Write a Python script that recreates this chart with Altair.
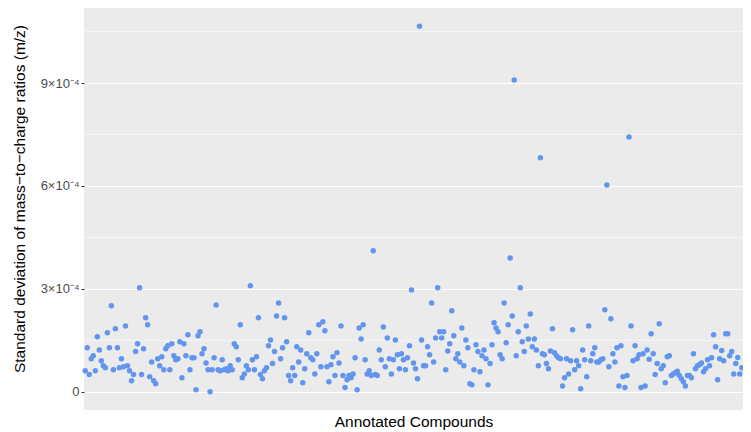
import altair as alt
import pandas as pd

# Standard deviation of m/z for each annotated compound, in units of 1e-4
sd_e4 = [
    0.61, 1.28, 0.50, 0.96, 1.05, 0.61, 1.60, 1.22, 0.90, 0.76, 0.70, 1.72, 1.28, 2.51, 0.64, 1.84,
    1.28, 0.70, 0.96, 0.73, 1.92, 0.76, 0.61, 0.32, 0.50, 1.17, 1.40, 3.03, 0.50, 1.25, 2.16, 1.95,
    0.44, 0.87, 0.32, 0.23, 0.96, 0.76, 1.02, 0.64, 1.25, 1.34, 0.64, 1.40, 1.05, 0.93, 0.96,
    1.46, 0.41, 1.40, 1.05, 1.66, 0.64, 0.99, 0.99, 0.06, 1.63,
    1.75, 1.11, 1.25, 0.84, 0.64, 0.00, 0.64, 0.99, 2.53, 0.64, 0.61, 0.93, 0.64, 0.67, 0.61, 0.76,
    0.64, 1.40, 1.31, 0.93, 1.95, 0.41, 0.52, 0.76, 0.64, 3.09, 0.93, 0.64, 1.02, 2.16, 0.50, 0.38,
    0.61, 0.70, 1.34, 1.51, 0.82, 1.17, 2.21, 2.59, 0.96, 1.28, 2.16, 1.46, 0.47, 0.32, 0.70, 0.47,
    1.31, 0.87, 1.22, 0.26, 0.67, 1.11, 1.72, 0.99,
    0.93, 0.52, 1.11, 1.95, 0.73, 2.04, 1.78, 0.73, 0.29, 0.79, 1.02, 0.47, 1.14, 0.84, 1.92, 0.47,
    0.12, 0.35, 0.47, 0.41, 0.52, 0.99, 0.06, 1.86, 1.54, 1.95, 0.93, 0.52, 0.61, 0.47, 4.11,
    0.50, 0.47, 1.22, 0.93, 1.89, 0.73, 1.57, 0.96, 0.52, 0.93, 1.51, 1.08, 0.67, 1.11, 0.93, 0.64,
    0.99, 1.34, 2.97, 0.84, 0.67, 0.38, 10.66, 1.51, 0.76,
    0.76, 1.31, 1.08, 2.59, 0.87, 1.57, 3.03, 1.75, 1.57, 1.75, 0.64, 1.19, 1.40, 2.36, 1.63,
    0.96, 1.11, 0.87, 1.86, 0.76, 1.51, 1.28, 0.23, 0.20, 0.64, 1.37, 1.17, 0.58, 1.05, 1.22,
    0.96, 0.20, 0.82, 1.37, 2.01, 1.86, 1.75, 1.08, 0.96, 2.59, 1.43, 1.95, 3.90, 2.21,
    9.09, 1.05, 1.75, 3.03, 1.46, 1.17, 1.92, 1.54, 2.27, 1.31,
    1.54, 1.22, 0.76, 6.82, 1.11, 1.08, 0.82, 0.67, 1.19, 1.84, 1.14, 1.05, 0.99, 0.96, 0.17, 0.41,
    0.96, 0.52, 0.90, 1.81, 0.64, 0.90, 0.76, 0.09, 1.22, 0.93, 0.44, 1.92, 0.90, 1.11, 1.28, 0.87,
    0.87, 0.93, 0.96, 2.39, 6.03, 0.73, 2.13, 1.11, 0.87, 1.28, 0.17, 1.34, 0.44, 0.12, 0.47, 7.43,
    1.92, 0.90, 1.34, 0.96, 1.08, 0.12,
    1.11, 0.17, 1.22, 0.95, 1.69, 1.11, 0.50, 0.82, 1.98, 0.67, 0.76, 0.26, 1.02, 1.05, 0.47, 0.52,
    0.55, 0.60, 0.47, 0.38, 0.29, 0.17, 0.47, 0.47, 0.41, 1.11, 0.67, 0.76, 0.79, 0.84, 0.58, 0.67,
    0.93, 0.76, 0.99, 1.66, 1.31, 0.35, 0.96, 1.20, 0.90, 1.69, 1.69, 1.05, 1.17, 0.52, 0.82, 1.00,
    0.52, 0.70,
]

major_ticks = [0, 3e-4, 6e-4, 9e-4]
minor_grid = [1.5e-4, 4.5e-4, 7.5e-4, 10.5e-4]

n = len(sd_e4)
df = pd.DataFrame({"compound": list(range(n)), "sd": [v * 1e-4 for v in sd_e4]})
minor_df = pd.DataFrame({"y": minor_grid})

ydom = [-0.533e-4, 11.19e-4]
yscale = alt.Scale(domain=ydom, nice=False, zero=False)

yaxis = alt.Axis(
    title="Standard deviation of mass\u2212to\u2212charge ratios (m/z)",
    values=major_ticks,
    labelExpr="datum.value == 0 ? '0' : format(round(datum.value * 10000), 'd') + '\u00d710\u207b\u2074'",
    grid=True, gridColor="white", gridWidth=1.1,
    domain=False, tickColor="#333333", tickSize=3, tickWidth=1.1,
    labelColor="#4D4D4D", labelFontSize=13, labelPadding=2, labelFont="Liberation Sans",
    titleFontSize=15.5, titleFontWeight="normal", titleColor="#000000",
    titleX=-57, titleY=190.5, titleFont="Liberation Sans",
)

minor = alt.Chart(minor_df).mark_rule(color="white", strokeWidth=0.55).encode(
    y=alt.Y("y:Q", scale=yscale, axis=yaxis)
)

points = alt.Chart(df).mark_circle(color="#6495ED", size=30, opacity=1).encode(
    x=alt.X(
        "compound:Q",
        scale=alt.Scale(domain=[-0.6, n - 1 + 0.6], nice=False, zero=False),
        axis=alt.Axis(
            title="Annotated Compounds", labels=False, ticks=False, domain=False,
            grid=False, titleFontSize=15.5, titleFontWeight="normal", titleColor="#000000",
            titlePadding=4, titleFont="Liberation Sans",
        ),
    ),
    y=alt.Y("sd:Q", scale=yscale, axis=yaxis),
)

chart = (
    alt.layer(minor, points)
    .properties(width=659, height=402, padding={"left": 76, "top": 0, "right": 0, "bottom": 22},
                autosize=alt.AutoSizeParams(type="none"))
    .configure(font="Liberation Sans")
    .configure_view(fill="#EBEBEB", stroke="transparent", strokeWidth=0)
)

chart.save("out.html", embed_options={"renderer": "svg", "actions": False})
